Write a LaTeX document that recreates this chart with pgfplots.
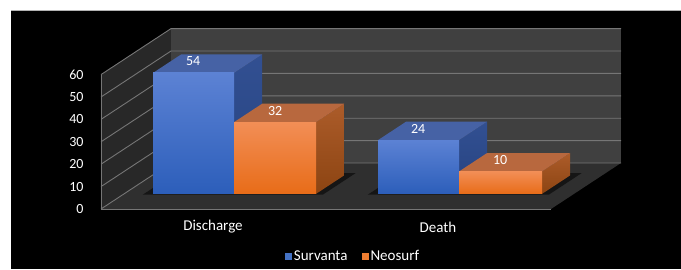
\documentclass[border=0pt]{standalone}
\usepackage{pgfplots}
\pgfplotsset{compat=1.18}
\usepackage{fontspec}
\setmainfont{Carlito}
\definecolor{backc}{RGB}{64,64,64}
\definecolor{leftc}{RGB}{40,40,40}
\definecolor{floorc}{RGB}{47,47,47}
\definecolor{gridc}{RGB}{118,118,118}
\definecolor{bfrontT}{RGB}{92,130,212}
\definecolor{bfrontB}{RGB}{44,94,186}
\definecolor{btop}{RGB}{70,98,165}
\definecolor{bsideT}{RGB}{50,80,146}
\definecolor{bsideB}{RGB}{38,66,128}
\definecolor{ofrontT}{RGB}{242,142,86}
\definecolor{ofrontB}{RGB}{232,108,24}
\definecolor{otop}{RGB}{184,104,62}
\definecolor{osideT}{RGB}{172,92,42}
\definecolor{osideB}{RGB}{140,68,18}
\definecolor{legblue}{RGB}{68,114,196}
\definecolor{legorange}{RGB}{237,125,49}
\begin{document}
\begin{tikzpicture}[x=1pt,y=1pt]
\useasboundingbox (0,0) rectangle (681,269);
\fill[white] (0,0) rectangle (681,269);
\fill[black] (11,0) rectangle (681,259);
\draw[gray!60, line width=0.6pt] (11,259) -- (681,259);
\begin{axis}[
  at={(101pt,60pt)}, anchor=origin,
  x={(1pt,0pt)}, y={(70pt,46pt)}, z={(0pt,2.24pt)},
  xmin=0, xmax=450, ymin=0, ymax=1, zmin=0, zmax=60,
  hide axis, clip=false,
  legend image code/.code={\path[#1] (0pt,-3.5pt) rectangle (7pt,3.5pt);},
  legend style={at={(axis cs:252,0,-21)}, anchor=center, draw=none, fill=none,
    text=white, font=\fontsize{15}{17}\selectfont, legend columns=2,
    /tikz/every even column/.append style={column sep=12pt}},
]
\addlegendimage{fill=legblue, draw=none}
\addlegendimage{fill=legorange, draw=none}
\legend{Survanta,Neosurf}
% walls
\addplot3[fill=floorc, draw=none, forget plot] coordinates {(0,0,0) (450,0,0) (450,1,0) (0,1,0)} -- cycle;
\addplot3[fill=leftc, draw=none, forget plot] coordinates {(0,0,0) (0,1,0) (0,1,60) (0,0,60)} -- cycle;
\addplot3[fill=backc, draw=none, forget plot] coordinates {(0,1,0) (450,1,0) (450,1,60) (0,1,60)} -- cycle;
% gridlines
\addplot3[gridc, line width=0.9pt, forget plot] coordinates {(0,0,0) (0,1,0) (450,1,0)};
\addplot3[gridc, line width=0.9pt, forget plot] coordinates {(0,0,10) (0,1,10) (450,1,10)};
\addplot3[gridc, line width=0.9pt, forget plot] coordinates {(0,0,20) (0,1,20) (450,1,20)};
\addplot3[gridc, line width=0.9pt, forget plot] coordinates {(0,0,30) (0,1,30) (450,1,30)};
\addplot3[gridc, line width=0.9pt, forget plot] coordinates {(0,0,40) (0,1,40) (450,1,40)};
\addplot3[gridc, line width=0.9pt, forget plot] coordinates {(0,0,50) (0,1,50) (450,1,50)};
\addplot3[gridc, line width=0.9pt, forget plot] coordinates {(0,0,60) (0,1,60) (450,1,60)};
\addplot3[gridc, line width=0.9pt, forget plot] coordinates {(0,0,60) (0,0,0) (450,0,0)};
% shadows
\addplot3[fill=black, opacity=0.55, draw=none, forget plot] coordinates {(20,0.31,0) (200,0.31,0) (200,0.78,0) (20,0.78,0)} -- cycle;
\addplot3[fill=black, opacity=0.55, draw=none, forget plot] coordinates {(245,0.31,0) (426,0.31,0) (426,0.78,0) (245,0.78,0)} -- cycle;
% Discharge - Survanta (54)
\addplot3[top color=bsideT, bottom color=bsideB, draw=none, forget plot] coordinates {(110,0.33,0) (110,0.73,0) (110,0.73,54) (110,0.33,54)} -- cycle;
\addplot3[fill=btop, draw=none, forget plot] coordinates {(29,0.33,54) (110,0.33,54) (110,0.73,54) (29,0.73,54)} -- cycle;
\addplot3[top color=bfrontT, bottom color=bfrontB, draw=none, forget plot] coordinates {(29,0.33,0) (110,0.33,0) (110,0.33,54) (29,0.33,54)} -- cycle;
% Discharge - Neosurf (32)
\addplot3[top color=osideT, bottom color=osideB, draw=none, forget plot] coordinates {(192,0.33,0) (192,0.73,0) (192,0.73,32) (192,0.33,32)} -- cycle;
\addplot3[fill=otop, draw=none, forget plot] coordinates {(110,0.33,32) (192,0.33,32) (192,0.73,32) (110,0.73,32)} -- cycle;
\addplot3[top color=ofrontT, bottom color=ofrontB, draw=none, forget plot] coordinates {(110,0.33,0) (192,0.33,0) (192,0.33,32) (110,0.33,32)} -- cycle;
% Death - Survanta (24)
\addplot3[top color=bsideT, bottom color=bsideB, draw=none, forget plot] coordinates {(335,0.33,0) (335,0.73,0) (335,0.73,24) (335,0.33,24)} -- cycle;
\addplot3[fill=btop, draw=none, forget plot] coordinates {(254,0.33,24) (335,0.33,24) (335,0.73,24) (254,0.73,24)} -- cycle;
\addplot3[top color=bfrontT, bottom color=bfrontB, draw=none, forget plot] coordinates {(254,0.33,0) (335,0.33,0) (335,0.33,24) (254,0.33,24)} -- cycle;
% Death - Neosurf (10)
\addplot3[top color=osideT, bottom color=osideB, draw=none, forget plot] coordinates {(418,0.33,0) (418,0.73,0) (418,0.73,10) (418,0.33,10)} -- cycle;
\addplot3[fill=otop, draw=none, forget plot] coordinates {(335,0.33,10) (418,0.33,10) (418,0.73,10) (335,0.73,10)} -- cycle;
\addplot3[top color=ofrontT, bottom color=ofrontB, draw=none, forget plot] coordinates {(335,0.33,0) (418,0.33,0) (418,0.33,10) (335,0.33,10)} -- cycle;
% data labels
\node[text=white, font=\fontsize{14}{16}\selectfont] at (axis cs:55,0.53,55) {54};
\node[text=white, font=\fontsize{14}{16}\selectfont] at (axis cs:137,0.53,33) {32};
\node[text=white, font=\fontsize{14}{16}\selectfont] at (axis cs:280,0.53,25) {24};
\node[text=white, font=\fontsize{14}{16}\selectfont] at (axis cs:362,0.53,11) {10};
% value axis labels
\node[anchor=east, text=white, font=\fontsize{14}{16}\selectfont] at (axis cs:-14,0,0) {0};
\node[anchor=east, text=white, font=\fontsize{14}{16}\selectfont] at (axis cs:-14,0,10) {10};
\node[anchor=east, text=white, font=\fontsize{14}{16}\selectfont] at (axis cs:-14,0,20) {20};
\node[anchor=east, text=white, font=\fontsize{14}{16}\selectfont] at (axis cs:-14,0,30) {30};
\node[anchor=east, text=white, font=\fontsize{14}{16}\selectfont] at (axis cs:-14,0,40) {40};
\node[anchor=east, text=white, font=\fontsize{14}{16}\selectfont] at (axis cs:-14,0,50) {50};
\node[anchor=east, text=white, font=\fontsize{14}{16}\selectfont] at (axis cs:-14,0,60) {60};
% category labels
\node[text=white, font=\fontsize{15}{17}\selectfont] at (axis cs:112,0,-8) {Discharge};
\node[text=white, font=\fontsize{15}{17}\selectfont] at (axis cs:337,0,-8) {Death};
\end{axis}
\end{tikzpicture}
\end{document}
